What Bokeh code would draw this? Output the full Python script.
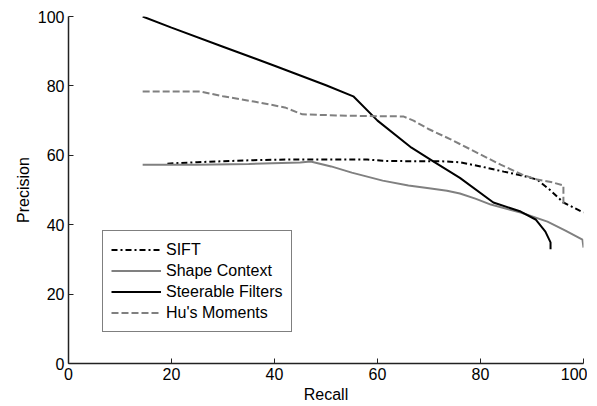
from bokeh.plotting import figure
from bokeh.models import Range1d, Legend, LegendItem, FixedTicker
from bokeh.embed import file_html
from bokeh.resources import INLINE

# Data (Recall, Precision)
sift_recall = [19.2, 25, 30, 36, 43, 50, 58, 61, 66, 72, 76, 80, 84.5, 88, 91, 93.5, 96.1, 98, 100]
sift_precision = [57.6, 58.0, 58.3, 58.6, 58.8, 58.8, 58.8, 58.4, 58.3, 58.3, 58.0, 56.8, 55.3, 54.2, 53.0, 50.0, 46.4, 45.0, 43.5]

shape_recall = [14.4, 25, 35, 45, 47, 51, 55, 61, 66, 70, 73.5, 76, 79, 82, 87.8, 93, 96.5, 99.8, 100]
shape_precision = [57.3, 57.3, 57.5, 57.9, 58.2, 56.8, 55.0, 52.7, 51.3, 50.5, 49.8, 49.0, 47.5, 45.8, 43.5, 40.9, 38.3, 35.7, 33.4]

steer_recall = [14.4, 20, 30, 40, 50, 55.3, 60, 66.6, 70.9, 76, 82.5, 87.8, 90.7, 92.6, 93.6, 93.6]
steer_precision = [100, 96.8, 91.3, 85.8, 80.2, 77.0, 70.0, 62.2, 58.2, 53.5, 46.4, 43.8, 41.5, 38.0, 34.9, 32.9]

hu_recall = [14.4, 20, 25.6, 30, 36, 42, 45.4, 52, 58, 65, 67, 70, 74.2, 79, 83.9, 88, 91, 94, 96.1, 96.1]
hu_precision = [78.4, 78.4, 78.4, 77.0, 75.5, 73.8, 71.8, 71.5, 71.3, 71.2, 70.0, 67.5, 64.6, 61.0, 57.3, 54.5, 53.0, 52.2, 51.3, 45.8]

x_ticks = [0, 20, 40, 60, 80, 100]
y_ticks = [0, 20, 40, 60, 80, 100]

FONT = "Liberation Sans"
GRAY = "#808080"

p = figure(frame_width=515, frame_height=347,
           x_range=Range1d(0, 100), y_range=Range1d(0, 100),
           output_backend="svg", toolbar_location=None,
           min_border_left=68, min_border_top=16, min_border_right=4, min_border_bottom=34)
p.outline_line_color = None
p.xgrid.visible = False
p.ygrid.visible = False
p.background_fill_color = "white"
p.border_fill_color = "white"

r1 = p.line(sift_recall, sift_precision, line_color="black", line_width=2, line_dash="6 3 2 3")
r2 = p.line(shape_recall, shape_precision, line_color=GRAY, line_width=2)
r3 = p.line(steer_recall, steer_precision, line_color="black", line_width=2)
r4 = p.line(hu_recall, hu_precision, line_color=GRAY, line_width=2, line_dash="7 3")

for ax, lab in ((p.xaxis[0], "Recall"), (p.yaxis[0], "Precision")):
    ax.axis_label = lab
    ax.axis_label_text_font = FONT
    ax.axis_label_text_font_size = "16px"
    ax.axis_label_text_font_style = "normal"
    ax.axis_label_text_color = "black"
    ax.major_label_text_font = FONT
    ax.major_label_text_font_size = "16px"
    ax.major_label_text_color = "black"
    ax.axis_line_color = "#222222"
    ax.axis_line_width = 1.5
    ax.major_tick_line_color = "#222222"
    ax.major_tick_in = 5
    ax.major_tick_out = 0
    ax.minor_tick_line_color = None
    ax.major_label_standoff = 4
    ax.axis_label_standoff = 3

p.xaxis[0].ticker = FixedTicker(ticks=x_ticks)
p.yaxis[0].ticker = FixedTicker(ticks=y_ticks)

legend = Legend(items=[
    LegendItem(label="SIFT", renderers=[r1]),
    LegendItem(label="Shape Context", renderers=[r2]),
    LegendItem(label="Steerable Filters", renderers=[r3]),
    LegendItem(label="Hu's Moments", renderers=[r4]),
], location=(34, 31))
legend.label_text_font = FONT
legend.label_text_font_size = "16px"
legend.label_text_color = "black"
legend.border_line_color = "black"
legend.border_line_width = 1
legend.background_fill_color = "white"
legend.background_fill_alpha = 1
legend.glyph_width = 50
legend.glyph_height = 21
legend.label_height = 21
legend.label_standoff = 5
legend.spacing = 0
legend.padding = 8
legend.margin = 0
p.add_layout(legend, "center")

open("out.html", "w").write(file_html(p, INLINE))
